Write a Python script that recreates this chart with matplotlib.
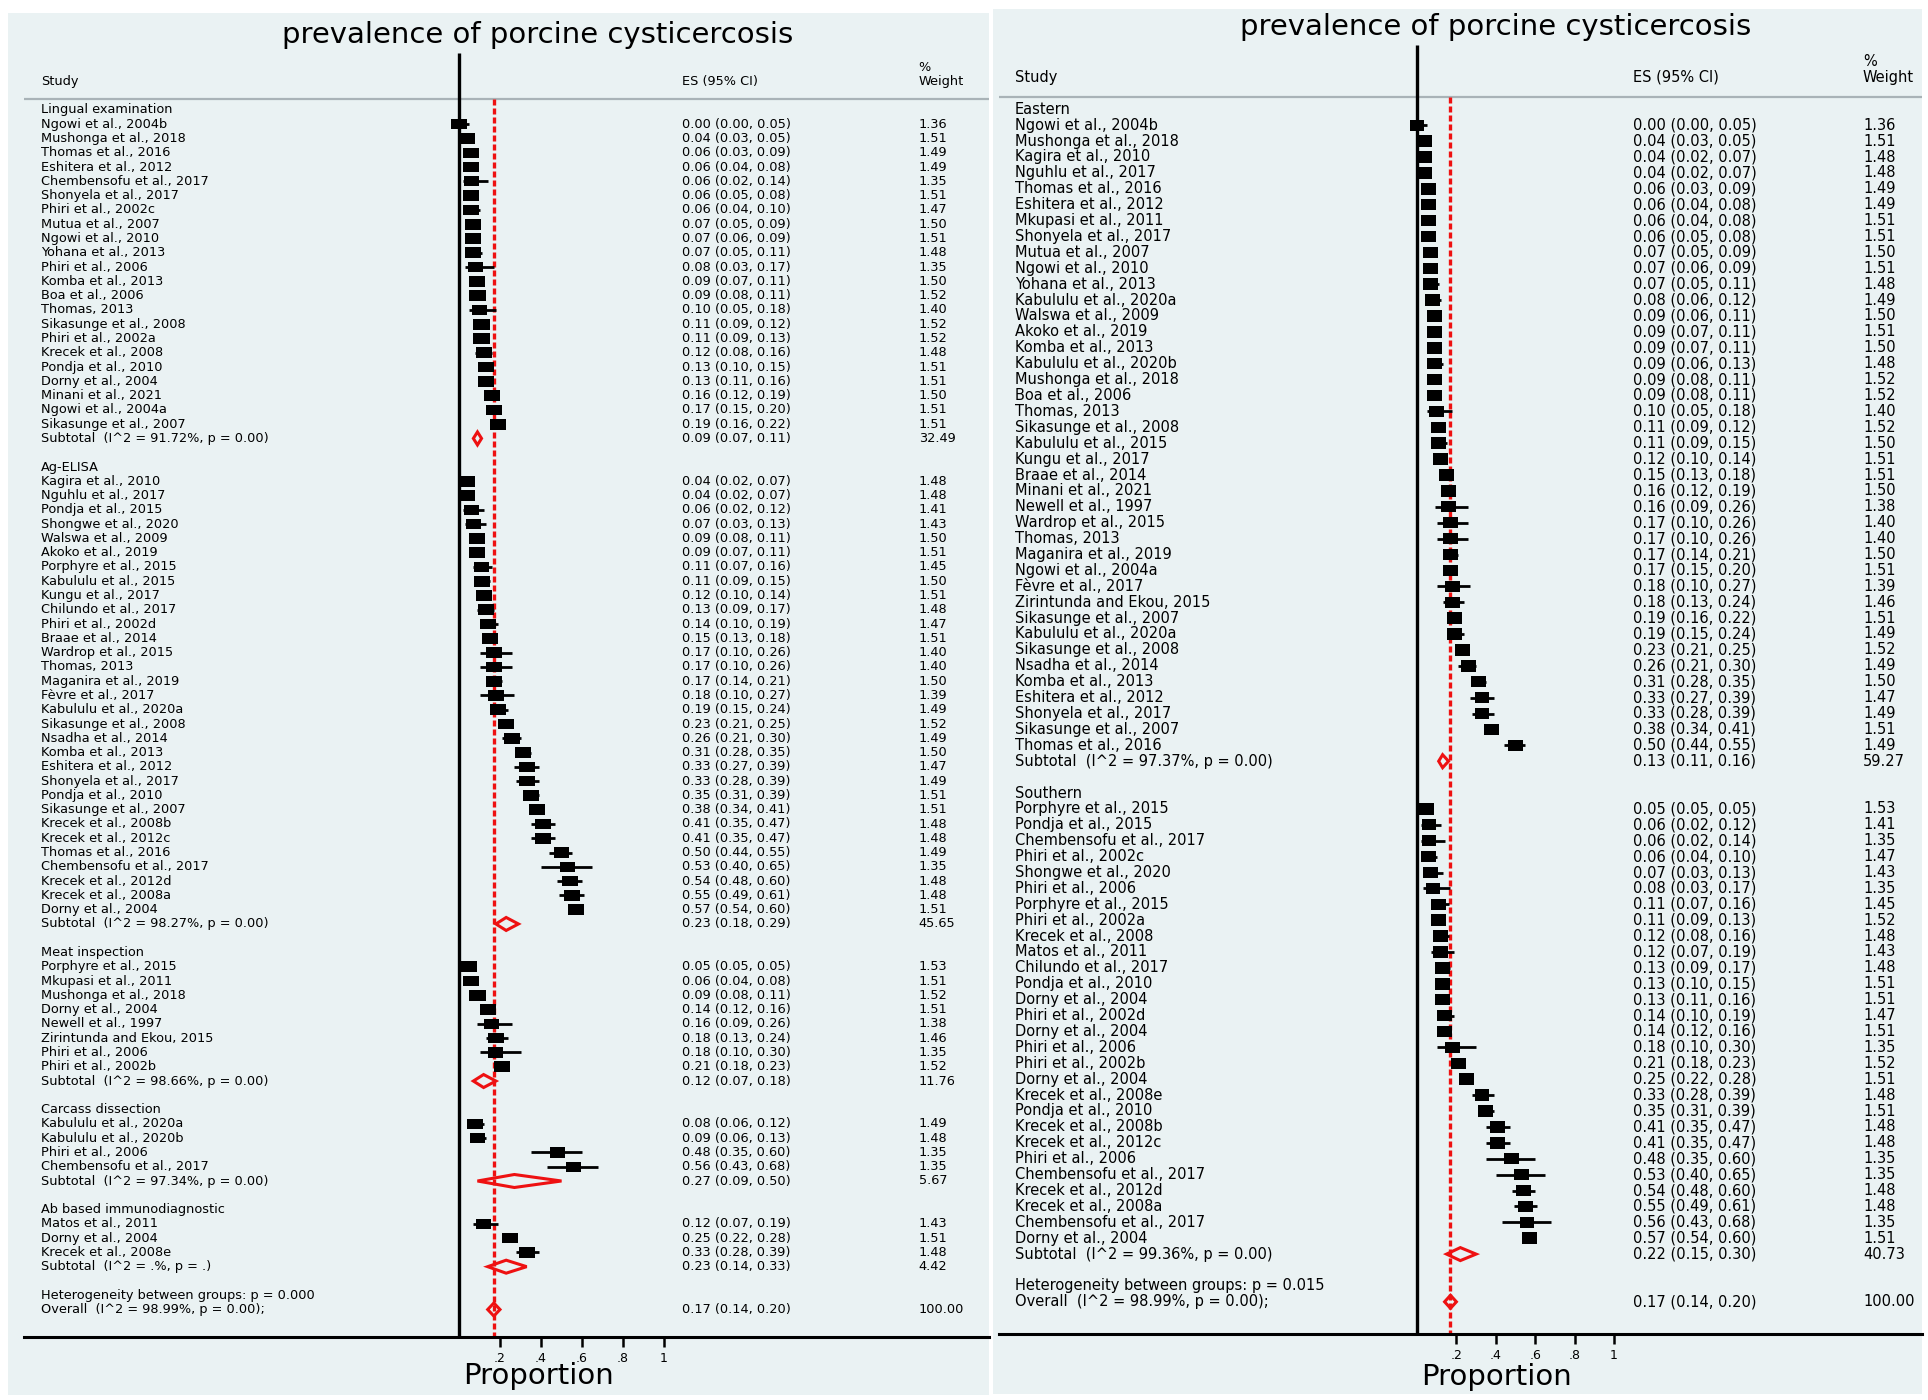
import matplotlib.pyplot as plt
from matplotlib.patches import Rectangle, Polygon
from matplotlib.path import Path

plt.rcParams['font.family'] = ['DejaVu Sans']

# data: (study, ES, lower 95% CI, upper 95% CI, % weight)
lingual = [
    ("Ngowi et al., 2004b", 0.00, 0.00, 0.05, 1.36),
    ("Mushonga et al., 2018", 0.04, 0.03, 0.05, 1.51),
    ("Thomas et al., 2016", 0.06, 0.03, 0.09, 1.49),
    ("Eshitera et al., 2012", 0.06, 0.04, 0.08, 1.49),
    ("Chembensofu et al., 2017", 0.06, 0.02, 0.14, 1.35),
    ("Shonyela et al., 2017", 0.06, 0.05, 0.08, 1.51),
    ("Phiri et al., 2002c", 0.06, 0.04, 0.10, 1.47),
    ("Mutua et al., 2007", 0.07, 0.05, 0.09, 1.50),
    ("Ngowi et al., 2010", 0.07, 0.06, 0.09, 1.51),
    ("Yohana et al., 2013", 0.07, 0.05, 0.11, 1.48),
    ("Phiri et al., 2006", 0.08, 0.03, 0.17, 1.35),
    ("Komba et al., 2013", 0.09, 0.07, 0.11, 1.50),
    ("Boa et al., 2006", 0.09, 0.08, 0.11, 1.52),
    ("Thomas, 2013", 0.10, 0.05, 0.18, 1.40),
    ("Sikasunge et al., 2008", 0.11, 0.09, 0.12, 1.52),
    ("Phiri et al., 2002a", 0.11, 0.09, 0.13, 1.52),
    ("Krecek et al., 2008", 0.12, 0.08, 0.16, 1.48),
    ("Pondja et al., 2010", 0.13, 0.10, 0.15, 1.51),
    ("Dorny et al., 2004", 0.13, 0.11, 0.16, 1.51),
    ("Minani et al., 2021", 0.16, 0.12, 0.19, 1.50),
    ("Ngowi et al., 2004a", 0.17, 0.15, 0.20, 1.51),
    ("Sikasunge et al., 2007", 0.19, 0.16, 0.22, 1.51),
]
ag_elisa = [
    ("Kagira et al., 2010", 0.04, 0.02, 0.07, 1.48),
    ("Nguhlu et al., 2017", 0.04, 0.02, 0.07, 1.48),
    ("Pondja et al., 2015", 0.06, 0.02, 0.12, 1.41),
    ("Shongwe et al., 2020", 0.07, 0.03, 0.13, 1.43),
    ("Walswa et al., 2009", 0.09, 0.08, 0.11, 1.50),
    ("Akoko et al., 2019", 0.09, 0.07, 0.11, 1.51),
    ("Porphyre et al., 2015", 0.11, 0.07, 0.16, 1.45),
    ("Kabululu et al., 2015", 0.11, 0.09, 0.15, 1.50),
    ("Kungu et al., 2017", 0.12, 0.10, 0.14, 1.51),
    ("Chilundo et al., 2017", 0.13, 0.09, 0.17, 1.48),
    ("Phiri et al., 2002d", 0.14, 0.10, 0.19, 1.47),
    ("Braae et al., 2014", 0.15, 0.13, 0.18, 1.51),
    ("Wardrop et al., 2015", 0.17, 0.10, 0.26, 1.40),
    ("Thomas, 2013", 0.17, 0.10, 0.26, 1.40),
    ("Maganira et al., 2019", 0.17, 0.14, 0.21, 1.50),
    ("Fèvre et al., 2017", 0.18, 0.10, 0.27, 1.39),
    ("Kabululu et al., 2020a", 0.19, 0.15, 0.24, 1.49),
    ("Sikasunge et al., 2008", 0.23, 0.21, 0.25, 1.52),
    ("Nsadha et al., 2014", 0.26, 0.21, 0.30, 1.49),
    ("Komba et al., 2013", 0.31, 0.28, 0.35, 1.50),
    ("Eshitera et al., 2012", 0.33, 0.27, 0.39, 1.47),
    ("Shonyela et al., 2017", 0.33, 0.28, 0.39, 1.49),
    ("Pondja et al., 2010", 0.35, 0.31, 0.39, 1.51),
    ("Sikasunge et al., 2007", 0.38, 0.34, 0.41, 1.51),
    ("Krecek et al., 2008b", 0.41, 0.35, 0.47, 1.48),
    ("Krecek et al., 2012c", 0.41, 0.35, 0.47, 1.48),
    ("Thomas et al., 2016", 0.50, 0.44, 0.55, 1.49),
    ("Chembensofu et al., 2017", 0.53, 0.40, 0.65, 1.35),
    ("Krecek et al., 2012d", 0.54, 0.48, 0.60, 1.48),
    ("Krecek et al., 2008a", 0.55, 0.49, 0.61, 1.48),
    ("Dorny et al., 2004", 0.57, 0.54, 0.60, 1.51),
]
meat = [
    ("Porphyre et al., 2015", 0.05, 0.05, 0.05, 1.53),
    ("Mkupasi et al., 2011", 0.06, 0.04, 0.08, 1.51),
    ("Mushonga et al., 2018", 0.09, 0.08, 0.11, 1.52),
    ("Dorny et al., 2004", 0.14, 0.12, 0.16, 1.51),
    ("Newell et al., 1997", 0.16, 0.09, 0.26, 1.38),
    ("Zirintunda and Ekou, 2015", 0.18, 0.13, 0.24, 1.46),
    ("Phiri et al., 2006", 0.18, 0.10, 0.30, 1.35),
    ("Phiri et al., 2002b", 0.21, 0.18, 0.23, 1.52),
]
carcass = [
    ("Kabululu et al., 2020a", 0.08, 0.06, 0.12, 1.49),
    ("Kabululu et al., 2020b", 0.09, 0.06, 0.13, 1.48),
    ("Phiri et al., 2006", 0.48, 0.35, 0.60, 1.35),
    ("Chembensofu et al., 2017", 0.56, 0.43, 0.68, 1.35),
]
ab_based = [
    ("Matos et al., 2011", 0.12, 0.07, 0.19, 1.43),
    ("Dorny et al., 2004", 0.25, 0.22, 0.28, 1.51),
    ("Krecek et al., 2008e", 0.33, 0.28, 0.39, 1.48),
]
eastern = [
    ("Ngowi et al., 2004b", 0.00, 0.00, 0.05, 1.36),
    ("Mushonga et al., 2018", 0.04, 0.03, 0.05, 1.51),
    ("Kagira et al., 2010", 0.04, 0.02, 0.07, 1.48),
    ("Nguhlu et al., 2017", 0.04, 0.02, 0.07, 1.48),
    ("Thomas et al., 2016", 0.06, 0.03, 0.09, 1.49),
    ("Eshitera et al., 2012", 0.06, 0.04, 0.08, 1.49),
    ("Mkupasi et al., 2011", 0.06, 0.04, 0.08, 1.51),
    ("Shonyela et al., 2017", 0.06, 0.05, 0.08, 1.51),
    ("Mutua et al., 2007", 0.07, 0.05, 0.09, 1.50),
    ("Ngowi et al., 2010", 0.07, 0.06, 0.09, 1.51),
    ("Yohana et al., 2013", 0.07, 0.05, 0.11, 1.48),
    ("Kabululu et al., 2020a", 0.08, 0.06, 0.12, 1.49),
    ("Walswa et al., 2009", 0.09, 0.06, 0.11, 1.50),
    ("Akoko et al., 2019", 0.09, 0.07, 0.11, 1.51),
    ("Komba et al., 2013", 0.09, 0.07, 0.11, 1.50),
    ("Kabululu et al., 2020b", 0.09, 0.06, 0.13, 1.48),
    ("Mushonga et al., 2018", 0.09, 0.08, 0.11, 1.52),
    ("Boa et al., 2006", 0.09, 0.08, 0.11, 1.52),
    ("Thomas, 2013", 0.10, 0.05, 0.18, 1.40),
    ("Sikasunge et al., 2008", 0.11, 0.09, 0.12, 1.52),
    ("Kabululu et al., 2015", 0.11, 0.09, 0.15, 1.50),
    ("Kungu et al., 2017", 0.12, 0.10, 0.14, 1.51),
    ("Braae et al., 2014", 0.15, 0.13, 0.18, 1.51),
    ("Minani et al., 2021", 0.16, 0.12, 0.19, 1.50),
    ("Newell et al., 1997", 0.16, 0.09, 0.26, 1.38),
    ("Wardrop et al., 2015", 0.17, 0.10, 0.26, 1.40),
    ("Thomas, 2013", 0.17, 0.10, 0.26, 1.40),
    ("Maganira et al., 2019", 0.17, 0.14, 0.21, 1.50),
    ("Ngowi et al., 2004a", 0.17, 0.15, 0.20, 1.51),
    ("Fèvre et al., 2017", 0.18, 0.10, 0.27, 1.39),
    ("Zirintunda and Ekou, 2015", 0.18, 0.13, 0.24, 1.46),
    ("Sikasunge et al., 2007", 0.19, 0.16, 0.22, 1.51),
    ("Kabululu et al., 2020a", 0.19, 0.15, 0.24, 1.49),
    ("Sikasunge et al., 2008", 0.23, 0.21, 0.25, 1.52),
    ("Nsadha et al., 2014", 0.26, 0.21, 0.30, 1.49),
    ("Komba et al., 2013", 0.31, 0.28, 0.35, 1.50),
    ("Eshitera et al., 2012", 0.33, 0.27, 0.39, 1.47),
    ("Shonyela et al., 2017", 0.33, 0.28, 0.39, 1.49),
    ("Sikasunge et al., 2007", 0.38, 0.34, 0.41, 1.51),
    ("Thomas et al., 2016", 0.50, 0.44, 0.55, 1.49),
]
southern = [
    ("Porphyre et al., 2015", 0.05, 0.05, 0.05, 1.53),
    ("Pondja et al., 2015", 0.06, 0.02, 0.12, 1.41),
    ("Chembensofu et al., 2017", 0.06, 0.02, 0.14, 1.35),
    ("Phiri et al., 2002c", 0.06, 0.04, 0.10, 1.47),
    ("Shongwe et al., 2020", 0.07, 0.03, 0.13, 1.43),
    ("Phiri et al., 2006", 0.08, 0.03, 0.17, 1.35),
    ("Porphyre et al., 2015", 0.11, 0.07, 0.16, 1.45),
    ("Phiri et al., 2002a", 0.11, 0.09, 0.13, 1.52),
    ("Krecek et al., 2008", 0.12, 0.08, 0.16, 1.48),
    ("Matos et al., 2011", 0.12, 0.07, 0.19, 1.43),
    ("Chilundo et al., 2017", 0.13, 0.09, 0.17, 1.48),
    ("Pondja et al., 2010", 0.13, 0.10, 0.15, 1.51),
    ("Dorny et al., 2004", 0.13, 0.11, 0.16, 1.51),
    ("Phiri et al., 2002d", 0.14, 0.10, 0.19, 1.47),
    ("Dorny et al., 2004", 0.14, 0.12, 0.16, 1.51),
    ("Phiri et al., 2006", 0.18, 0.10, 0.30, 1.35),
    ("Phiri et al., 2002b", 0.21, 0.18, 0.23, 1.52),
    ("Dorny et al., 2004", 0.25, 0.22, 0.28, 1.51),
    ("Krecek et al., 2008e", 0.33, 0.28, 0.39, 1.48),
    ("Pondja et al., 2010", 0.35, 0.31, 0.39, 1.51),
    ("Krecek et al., 2008b", 0.41, 0.35, 0.47, 1.48),
    ("Krecek et al., 2012c", 0.41, 0.35, 0.47, 1.48),
    ("Phiri et al., 2006", 0.48, 0.35, 0.60, 1.35),
    ("Chembensofu et al., 2017", 0.53, 0.40, 0.65, 1.35),
    ("Krecek et al., 2012d", 0.54, 0.48, 0.60, 1.48),
    ("Krecek et al., 2008a", 0.55, 0.49, 0.61, 1.48),
    ("Chembensofu et al., 2017", 0.56, 0.43, 0.68, 1.35),
    ("Dorny et al., 2004", 0.57, 0.54, 0.60, 1.51),
]

# pooled estimates: (label, ES, lower, upper, % weight)
lingual_sub = ("Subtotal  (I^2 = 91.72%, p = 0.00)", 0.09, 0.07, 0.11, 32.49)
ag_elisa_sub = ("Subtotal  (I^2 = 98.27%, p = 0.00)", 0.23, 0.18, 0.29, 45.65)
meat_sub = ("Subtotal  (I^2 = 98.66%, p = 0.00)", 0.12, 0.07, 0.18, 11.76)
carcass_sub = ("Subtotal  (I^2 = 97.34%, p = 0.00)", 0.27, 0.09, 0.50, 5.67)
ab_based_sub = ("Subtotal  (I^2 = .%, p = .)", 0.23, 0.14, 0.33, 4.42)
eastern_sub = ("Subtotal  (I^2 = 97.37%, p = 0.00)", 0.13, 0.11, 0.16, 59.27)
southern_sub = ("Subtotal  (I^2 = 99.36%, p = 0.00)", 0.22, 0.15, 0.30, 40.73)
overall = ("Overall  (I^2 = 98.99%, p = 0.00);", 0.17, 0.14, 0.20, 100.00)

method_groups = [
    ("Lingual examination", lingual, lingual_sub),
    ("Ag-ELISA", ag_elisa, ag_elisa_sub),
    ("Meat inspection", meat, meat_sub),
    ("Carcass dissection", carcass, carcass_sub),
    ("Ab based immunodiagnostic", ab_based, ab_based_sub),
]
region_groups = [
    ("Eastern", eastern, eastern_sub),
    ("Southern", southern, southern_sub),
]
het_method = "Heterogeneity between groups: p = 0.000"
het_region = "Heterogeneity between groups: p = 0.015"

title = "prevalence of porcine cysticercosis"
xlabel = "Proportion"
xticks = [0.2, 0.4, 0.6, 0.8, 1.0]
xtick_labels = [".2", ".4", ".6", ".8", "1"]

BG = '#eaf2f3'
RED = '#ee1111'
W, H = 1928, 1400

fig = plt.figure(figsize=(W / 100, H / 100), dpi=100)


def draw_panel(groups, het, lay):
    L, R, T, B, AX = lay['left'], lay['right'], lay['top'], lay['bottom'], lay['axis']
    fig.patches.append(Rectangle((L / W, 1 - B / H), (R - L) / W, (B - T) / H,
                                 transform=fig.transFigure, facecolor=BG,
                                 edgecolor='none', zorder=-5))
    ax = fig.add_axes([L / W, 1 - AX / H, (R - L) / W, (AX - T) / H])
    ax.patch.set_visible(False)

    def px_x(p):
        return (p - lay['x0']) / lay['unit']

    def px_y(p):
        return (p - lay['row0']) / lay['row']

    ax.set_xlim(px_x(L), px_x(R))
    ax.set_ylim(px_y(AX), px_y(T))
    for s in ['top', 'left', 'right']:
        ax.spines[s].set_visible(False)
    ax.spines['bottom'].set_linewidth(2.2)
    ax.spines['bottom'].set_bounds(px_x(lay['line_left']), px_x(R))
    ax.set_yticks([])
    ax.set_xticks(xticks)
    ax.set_xticklabels(xtick_labels)
    ax.tick_params(axis='x', direction='out', length=7.5, width=1.8, pad=3,
                   labelsize=9)

    fs = lay['fs']
    xs, xe, xw = px_x(lay['study_x']), px_x(lay['es_x']), px_x(lay['wt_x'])
    kw = dict(fontsize=fs, va='center', ha='left')

    # header
    ax.text(px_x(lay['title_x']), px_y(lay['title_y']), title, fontsize=21,
            ha='center', va='center')
    ax.text(xs, px_y(lay['head_y']), "Study", **kw)
    ax.text(xe, px_y(lay['head_y']), "ES (95% CI)", **kw)
    ax.text(xw, px_y(lay['pct_y']), "%", **kw)
    ax.text(xw, px_y(lay['head_y']), "Weight", **kw)
    ax.plot([px_x(lay['line_left']), px_x(R)], [px_y(lay['gray_y'])] * 2,
            color='#a9b3b7', lw=1.6, solid_capstyle='butt', clip_on=False)

    rows, es, lo, hi, wt = [], [], [], [], []
    pooled = []
    r = 0
    for head, studies, sub in groups:
        ax.text(xs, r, head, **kw)
        r += 1
        for name, e, l, h, w in studies:
            ax.text(xs, r, name, **kw)
            ax.text(xe, r, f"{e:.2f} ({l:.2f}, {h:.2f})", **kw)
            ax.text(xw, r, f"{w:.2f}", **kw)
            rows.append(r); es.append(e); lo.append(l); hi.append(h); wt.append(w)
            r += 1
        pooled.append((r,) + sub)
        r += 2
    ax.text(xs, r, het, **kw)
    pooled.append((r + 1,) + overall)

    for rr, label, e, l, h, w in pooled:
        ax.text(xs, rr, label, **kw)
        ax.text(xe, rr, f"{e:.2f} ({l:.2f}, {h:.2f})", **kw)
        ax.text(xw, rr, f"{w:.2f}", **kw)
        dh = lay['dia_h'] / lay['row']
        ax.add_patch(Polygon([(l, rr), (e, rr - dh), (h, rr), (e, rr + dh)],
                             closed=True, fill=False, edgecolor=RED, lw=2.2,
                             zorder=4))

    # reference lines
    ax.vlines(0, px_y(lay['vline_top']), px_y(AX), color='black', lw=2.4, zorder=2)
    ax.plot([overall[1], overall[1]], [px_y(lay['gray_y']), px_y(AX)],
            color=RED, lw=2.4, linestyle=(0, (1.8, 0.9)), zorder=2)

    # study estimates
    ax.hlines(rows, lo, hi, color='black', lw=2.0, zorder=3)
    a = lay['box_w'] / lay['box_h']
    box = Path([(-a, -1), (a, -1), (a, 1), (-a, 1), (-a, -1)],
               [Path.MOVETO, Path.LINETO, Path.LINETO, Path.LINETO, Path.CLOSEPOLY])
    ms = [(lay['box_w'] * 0.72 * (w / 1.5) ** 0.5) ** 2 for w in wt]
    ax.scatter(es, rows, s=ms, marker=box, color='black', linewidths=0, zorder=5)

    ax.text(px_x(lay['title_x']), px_y(lay['xlabel_y']), xlabel, fontsize=21,
            ha='center', va='center', clip_on=False)
    return ax


left_layout = dict(left=8, right=989, top=13, bottom=1395, axis=1337,
                   x0=459, unit=205, row0=110, row=14.28,
                   title_x=538, title_y=35, xlabel_y=1376,
                   study_x=41, es_x=682, wt_x=918.6,
                   head_y=81.7, pct_y=67.7, gray_y=98.7, line_left=24,
                   vline_top=53, fs=9.3, box_w=16, box_h=10.7, dia_h=6.5)
right_layout = dict(left=993, right=1922, top=9, bottom=1394, axis=1334,
                    x0=1417, unit=197, row0=109.3, row=15.9,
                    title_x=1496, title_y=27, xlabel_y=1377,
                    study_x=1015, es_x=1633, wt_x=1863,
                    head_y=77.3, pct_y=61.7, gray_y=96.7, line_left=999,
                    vline_top=45, fs=10.5, box_w=15, box_h=11.5, dia_h=6.5)

draw_panel(method_groups, het_method, left_layout)
draw_panel(region_groups, het_region, right_layout)

fig.savefig('out.png', dpi=100, facecolor='white')
